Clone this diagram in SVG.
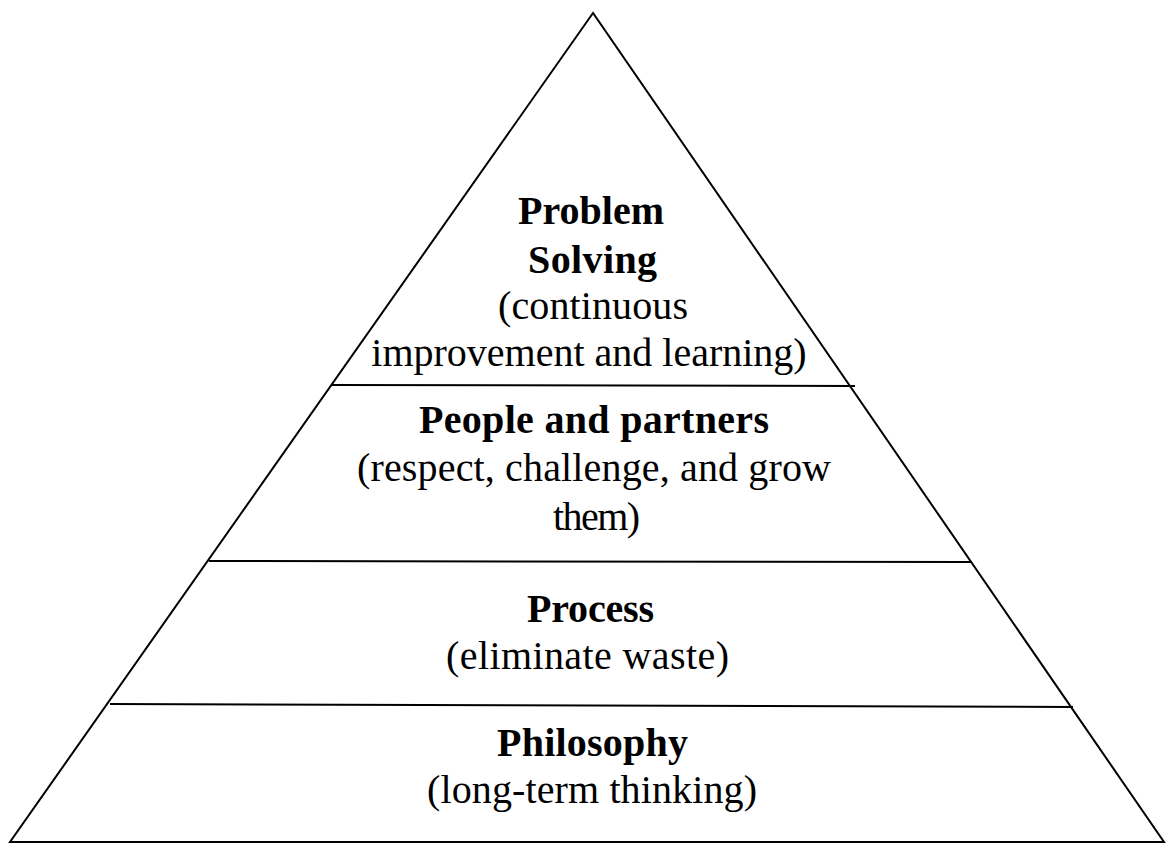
<svg xmlns="http://www.w3.org/2000/svg" width="1168" height="844" viewBox="0 0 1168 844">
<style>
.e{stroke:#000;stroke-width:2;fill:none}
.b{font-family:"Liberation Serif",serif;font-weight:bold;font-size:40px}
.n{font-family:"Liberation Serif",serif;font-size:40px}
</style>
<rect width="1168" height="844" fill="#fff"/>
<g id="pyramid"><path class="e" d="M593,13 L10,842 L1164,842 Z"/></g>
<g id="connectors">
<line class="e" x1="332" y1="385" x2="855" y2="386"/>
<line class="e" x1="209" y1="561" x2="972" y2="562"/>
<line class="e" x1="110" y1="704" x2="1073" y2="707"/>
</g>
<g id="problem"><text class="b" x="518" y="224" textLength="146">Problem</text><text class="b" x="528" y="273" textLength="129">Solving</text><text class="n" x="498" y="319" textLength="190">(continuous</text><text class="n" x="589" y="366" text-anchor="middle" font-size="43">improvement and learning)</text></g>
<g id="people"><text class="b" x="419" y="433" textLength="350">People and partners</text><text class="n" x="357" y="481" textLength="474">(respect, challenge, and grow</text><text class="n" x="553" y="530" textLength="87">them)</text></g>
<g id="process"><text class="b" x="527" y="622" textLength="127">Process</text><text class="n" x="446" y="669" textLength="283">(eliminate waste)</text></g>
<g id="philosophy"><text class="b" x="497" y="756" textLength="191">Philosophy</text><text class="n" x="427" y="803" textLength="330">(long-term thinking)</text></g>
</svg>
